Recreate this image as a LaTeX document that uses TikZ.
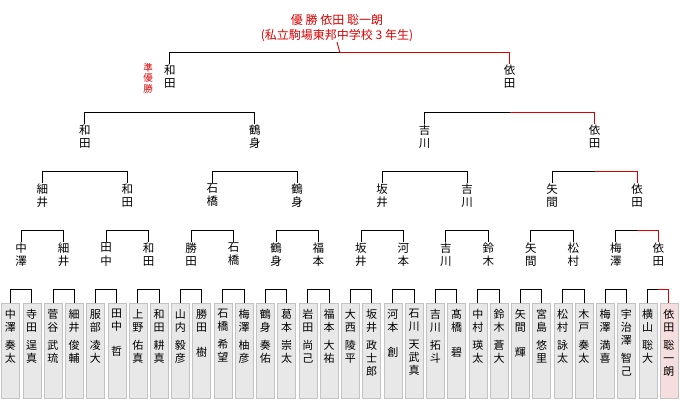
\documentclass[tikz,border=0pt]{standalone}
\usepackage{fontspec}
\newfontfamily\cjk{Noto Sans CJK JP}
\usetikzlibrary{calc}
\definecolor{wr}{RGB}{220,0,0}
\definecolor{boxg}{RGB}{232,232,232}
\definecolor{boxb}{RGB}{195,195,195}
\definecolor{pinkf}{RGB}{246,222,222}
\begin{document}
\begin{tikzpicture}[x=1pt,y=-1pt,
  lbl/.style={inner sep=0.5pt,anchor=north,align=center,font={\cjk\fontsize{11.5}{13.5}\selectfont}},
  box/.style={draw=boxb,fill=boxg,minimum width=18pt,minimum height=95pt,inner sep=0pt,anchor=north},
  nm/.style={inner sep=0pt,anchor=north,align=center,font={\cjk\fontsize{11}{13}\selectfont}},
  br/.style={black,line width=0.9pt},
  rd/.style={wr,line width=0.9pt}]
\useasboundingbox (0,0) rectangle (680,400);
% bottom boxes
\foreach \i/\t in {1/{中\\澤\\[5pt]奏\\太},2/{寺\\田\\[5pt]逞\\真},3/{菅\\谷\\[5pt]武\\琉},4/{細\\井\\[5pt]俊\\輔},
 5/{服\\部\\[5pt]凌\\大},6/{田\\中\\[12pt]哲},7/{上\\野\\[5pt]佑\\真},8/{和\\田\\[5pt]耕\\真},
 9/{山\\内\\[5pt]毅\\彦},10/{勝\\田\\[12pt]樹},11/{石\\橋\\[5pt]希\\望},12/{梅\\澤\\[5pt]柚\\彦},
 13/{鶴\\身\\[5pt]奏\\佑},14/{葛\\本\\[5pt]崇\\太},15/{岩\\田\\[5pt]尚\\己},16/{福\\本\\[5pt]大\\祐},
 17/{大\\西\\[5pt]陵\\平},18/{坂\\井\\[5pt]政\\士\\郎},19/{河\\本\\[12pt]創},20/{石\\川\\[5pt]天\\武\\真},
 21/{吉\\川\\[5pt]拓\\斗},22/{髙\\橋\\[12pt]碧},23/{中\\村\\[5pt]瑛\\太},24/{鈴\\木\\[5pt]蒼\\大},
 25/{矢\\間\\[12pt]輝},26/{宮\\島\\[5pt]悠\\里},27/{松\\村\\[5pt]詠\\太},28/{木\\戸\\[5pt]奏\\太},
 29/{梅\\澤\\[5pt]満\\喜},30/{宇\\治\\澤\\[5pt]智\\己},31/{横\\山\\[5pt]聡\\大},32/{依\\田\\[5pt]聡\\一\\朗}}{
  \pgfmathsetmacro\xx{10.5+21.24*(\i-1)}
  \ifnum\i=32
    \node[box,fill=pinkf] (p\i) at (\xx,303) {};
  \else
    \node[box] (p\i) at (\xx,303) {};
  \fi
  \node[nm] (t\i) at (\xx,309) {\t};
}
% level labels
\foreach \j/\t in {1/{中\\澤},2/{細\\井},3/{田\\中},4/{和\\田},5/{勝\\田},6/{石\\橋},7/{鶴\\身},8/{福\\本},
 9/{坂\\井},10/{河\\本},11/{吉\\川},12/{鈴\\木},13/{矢\\間},14/{松\\村},15/{梅\\澤},16/{依\\田}}{
  \pgfmathsetmacro\xx{10.5+21.24*(2*\j-1.5)}
  \node[lbl] (a\j) at (\xx,242) {\t};
}
\foreach \j/\t in {1/{細\\井},2/{和\\田},3/{石\\橋},4/{鶴\\身},5/{坂\\井},6/{吉\\川},7/{矢\\間},8/{依\\田}}{
  \pgfmathsetmacro\xx{10.5+21.24*(4*\j-2.5)}
  \node[lbl] (b\j) at (\xx,183) {\t};
}
\foreach \j/\t in {1/{和\\田},2/{鶴\\身},3/{吉\\川},4/{依\\田}}{
  \pgfmathsetmacro\xx{10.5+21.24*(8*\j-4.5)}
  \node[lbl] (c\j) at (\xx,124) {\t};
}
\foreach \j/\t in {1/{和\\田},2/{依\\田}}{
  \pgfmathsetmacro\xx{10.5+21.24*(16*\j-8.5)}
  \node[lbl] (d\j) at (\xx,64) {\t};
}
\node[inner sep=0pt,anchor=north,align=center,text=wr,font={\cjk\fontsize{9.5}{10.5}\selectfont}] (ju) at (148,63) {準\\優\\勝};
\node[inner sep=0pt,anchor=south,align=center,text=wr,font={\cjk\fontsize{12}{15}\selectfont}] (ch) at (337,42) {優 勝 依田 聡一朗\\(私立駒場東邦中学校 3 年生)};
% brackets
\foreach \k in {1,...,16}{
  \pgfmathtruncatemacro\l{2*\k-1}\pgfmathtruncatemacro\r{2*\k}
  \draw[br] (p\l.north) -- ++(0,-14) -| (p\r.north);
  \coordinate (m0\k) at ($(p\l.north)!.5!(p\r.north)+(0,-14)$);
}
\foreach \k in {1,...,8}{
  \pgfmathtruncatemacro\l{2*\k-1}\pgfmathtruncatemacro\r{2*\k}
  \draw[br] (a\l.north) -- ++(0,-12) -| (a\r.north);
  \coordinate (m1\k) at ($(a\l.north)!.5!(a\r.north)+(0,-12)$);
}
\foreach \k in {1,...,4}{
  \pgfmathtruncatemacro\l{2*\k-1}\pgfmathtruncatemacro\r{2*\k}
  \draw[br] (b\l.north) -- ++(0,-12) -| (b\r.north);
  \coordinate (m2\k) at ($(b\l.north)!.5!(b\r.north)+(0,-12)$);
}
\foreach \k in {1,2}{
  \pgfmathtruncatemacro\l{2*\k-1}\pgfmathtruncatemacro\r{2*\k}
  \draw[br] (c\l.north) -- ++(0,-12) -| (c\r.north);
  \coordinate (m3\k) at ($(c\l.north)!.5!(c\r.north)+(0,-12)$);
}
\draw[br] (d1.north) -- ++(0,-12) -| (d2.north);
\coordinate (m4) at ($(d1.north)!.5!(d2.north)+(0,-12)$);
% winner path
\draw[rd] (m016) -| (p32.north);
\draw[rd] (m18) -| (a16.north);
\draw[rd] (m24) -| (b8.north);
\draw[rd] (m32) -| (c4.north);
\draw[rd] (m4) -| (d2.north);
\draw[rd] (m4) -- (ch.south);
\end{tikzpicture}
\end{document}
